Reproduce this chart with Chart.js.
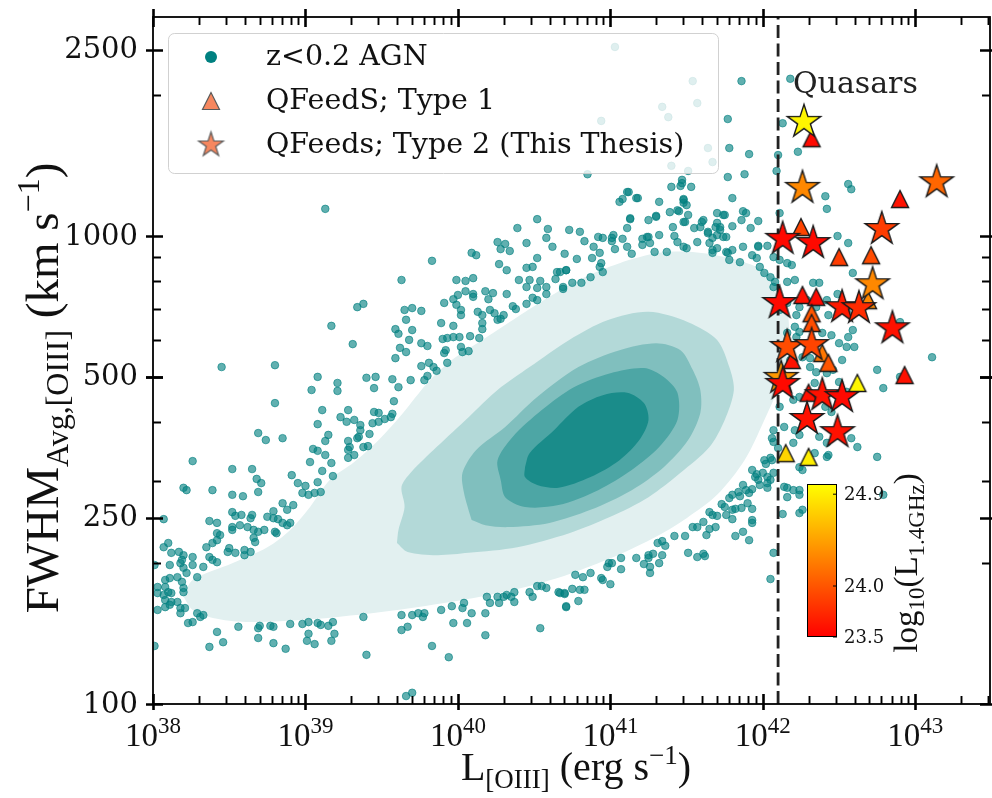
<!DOCTYPE html>
<html><head><meta charset="utf-8">
<script src="https://cdn.jsdelivr.net/npm/chart.js@4.4.1/dist/chart.umd.min.js"></script>
<style>html,body{margin:0;padding:0;background:#fff;}canvas{display:block;}</style>
</head><body>
<canvas id="c" width="992" height="798"></canvas>
<script>
// ---------------- DATA (log10 L[OIII] in erg/s, log10 FWHM in km/s) ----------------
const xRangeLog = [38, 43.49];
const yRangeLog = [2, 3.468];
const xTickExponents = [38, 39, 40, 41, 42, 43];
const yTickValues = [100, 250, 500, 1000, 2500];
const quasarCutLogL = 42.1;
const cbarRange = [23.5, 25.0];
const cbarTicks = [23.5, 24.0, 24.9];

// z<0.2 AGN outliers [logL, logFWHM]
const agnPoints = [
[39.13,3.058],[40.52,3.036],[40.39,3.017],[40.59,3.015],[40.58,2.996],[40.26,2.987],[40.31,2.983],[40.45,2.985],[40.62,2.977],[40.28,2.972],[40.34,2.968],[40.09,2.964],[40.12,2.959],[40.52,2.953],[40.70,2.962],[39.83,2.947],[40.27,2.940],[40.32,2.927],[40.45,2.932],[40.49,2.934],[40.65,2.923],[40.71,2.927],[39.63,2.906],[39.99,2.906],[40.05,2.904],[40.10,2.910],[40.40,2.906],[40.47,2.906],[40.54,2.904],[40.64,2.908],[40.45,2.891],[40.52,2.889],[40.58,2.891],[40.69,2.887],[40.05,2.882],[40.18,2.882],[40.23,2.878],[40.32,2.876],[40.58,2.876],[40.00,2.874],[40.10,2.876],[40.10,2.870],[40.20,2.865],[40.49,2.868],[40.52,2.863],[40.45,2.855],[40.36,2.850],[39.97,2.865],[39.91,2.857],[39.99,2.853],[40.02,2.842],[40.02,2.831],[40.13,2.838],[40.16,2.831],[40.21,2.842],[40.24,2.835],[40.30,2.831],[40.38,2.844],[40.26,2.821],[40.28,2.823],[40.16,2.814],[40.16,2.801],[39.70,2.846],[39.65,2.842],[39.76,2.840],[39.66,2.821],[39.34,2.848],[39.38,2.855],[39.17,2.808],[39.59,2.801],[39.70,2.799],[39.61,2.791],[39.89,2.814],[39.97,2.808],[39.68,2.778],[39.76,2.771],[39.80,2.765],[39.90,2.780],[39.93,2.782],[39.97,2.784],[40.01,2.784],[40.08,2.786],[40.14,2.782],[40.02,2.763],[40.07,2.754],[39.92,2.756],[39.91,2.750],[40.03,2.752],[39.31,2.769],[39.62,2.761],[39.66,2.752],[39.59,2.739],[39.93,2.729],[39.76,2.722],[39.81,2.729],[39.84,2.720],[39.86,2.712],[39.80,2.701],[39.78,2.692],[38.45,2.720],[38.80,2.724],[39.08,2.699],[39.21,2.686],[39.04,2.671],[39.21,2.669],[39.40,2.697],[39.46,2.699],[39.45,2.675],[39.57,2.694],[39.61,2.677],[39.69,2.692],[39.58,2.647],[38.80,2.643],[39.11,2.628],[39.28,2.628],[39.23,2.613],[39.27,2.603],[39.32,2.607],[39.36,2.596],[39.08,2.598],[39.45,2.624],[39.48,2.622],[39.44,2.600],[39.48,2.603],[39.52,2.609],[39.56,2.613],[39.57,2.620],[39.36,2.585],[38.69,2.579],[38.74,2.564],[38.85,2.568],[39.15,2.575],[39.13,2.562],[39.35,2.571],[39.34,2.568],[39.42,2.577],[39.28,2.562],[39.29,2.549],[39.28,2.543],[39.38,2.549],[39.41,2.551],[39.05,2.545],[39.08,2.541],[39.13,2.532],[39.32,2.532],[39.28,2.526],[38.26,2.519],[39.03,2.517],[39.17,2.515],[38.52,2.502],[38.65,2.502],[39.11,2.498],[38.91,2.489],[39.18,2.487],[38.68,2.481],[38.71,2.472],[38.95,2.472],[39.08,2.474],[39.00,2.466],[38.20,2.462],[38.22,2.457],[38.39,2.457],[38.69,2.453],[38.98,2.451],[39.02,2.447],[39.06,2.451],[39.10,2.453],[38.52,2.447],[38.59,2.444],
[38.85,2.429],[38.92,2.425],[38.88,2.415],[38.75,2.400],[38.79,2.412],[38.79,2.397],[38.52,2.410],[38.54,2.402],[38.58,2.404],[38.65,2.404],[38.64,2.397],[38.37,2.391],[38.42,2.387],[38.82,2.395],[38.85,2.387],[38.88,2.382],[38.90,2.387],[38.07,2.395],[38.52,2.378],[38.57,2.382],[38.62,2.378],[38.66,2.372],[38.69,2.368],[38.80,2.368],[38.81,2.365],[38.73,2.372],[38.42,2.365],[38.44,2.361],[38.52,2.372],[38.66,2.355],[38.67,2.346],[38.42,2.350],[38.35,2.335],[38.39,2.344],[38.50,2.333],[38.54,2.323],[38.60,2.329],[38.64,2.325],[38.60,2.318],[38.49,2.325],[38.07,2.335],[38.10,2.344],[38.12,2.323],[38.17,2.325],[38.20,2.318],[38.19,2.308],[38.37,2.314],[38.42,2.303],[38.39,2.308],[38.26,2.314],[38.26,2.297],[38.11,2.297],[38.18,2.301],[38.33,2.293],[38.20,2.291],[38.22,2.280],[38.29,2.271],[38.01,2.297],[38.08,2.265],[38.11,2.269],[38.16,2.271],[38.19,2.261],[38.20,2.248],[38.20,2.239],[38.03,2.250],[38.08,2.250],[38.10,2.239],[38.03,2.237],[38.07,2.233],[38.12,2.237],[38.08,2.222],[38.12,2.218],[38.16,2.218],[38.03,2.201],[38.08,2.207],[38.11,2.212],[38.18,2.205],[38.21,2.205],[38.18,2.194],[38.29,2.194],[38.31,2.186],[38.33,2.190],[38.23,2.173],[38.26,2.175],[38.56,2.165],[38.42,2.154],[38.46,2.132],[38.37,2.122],[38.01,2.124],[38.69,2.162],[38.70,2.167],[38.77,2.167],[38.79,2.165],[38.69,2.141],[38.79,2.130],[38.87,2.118],[38.90,2.171],[38.98,2.171],[39.02,2.175],[39.08,2.173],[39.10,2.169],[39.15,2.167],[39.18,2.175],[39.02,2.150],[39.01,2.135],[39.06,2.128],[39.17,2.135],[39.19,2.150],[39.38,2.186],[39.40,2.105],[39.63,2.190],[39.63,2.158],[39.67,2.165],[39.70,2.190],[39.74,2.194],[39.77,2.186],[39.78,2.194],[39.83,2.124],[39.89,2.201],[39.94,2.100],[39.96,2.209],[39.97,2.173],[40.03,2.205],[40.04,2.216],[40.09,2.194],[40.06,2.173],[40.18,2.194],[40.18,2.147],[40.19,2.229],[40.21,2.216],[40.26,2.229],[40.27,2.216],[40.30,2.229],[40.32,2.233],[40.35,2.229],[40.37,2.239],[40.37,2.218],[40.47,2.239],[40.49,2.229],[40.52,2.252],[40.55,2.252],[40.58,2.248],[40.54,2.162],[40.66,2.239],[40.70,2.235],[40.71,2.209],[39.66,2.017],[39.70,2.024],
[40.67,2.237],[40.71,2.207],[40.70,2.237],[40.75,2.246],[40.79,2.220],[40.80,2.244],[40.83,2.244],[40.77,2.276],[40.82,2.271],[40.87,2.280],[40.94,2.269],[40.95,2.265],[41.00,2.256],[40.98,2.293],[40.99,2.301],[41.01,2.301],[41.07,2.312],[41.07,2.288],[41.17,2.312],[41.22,2.299],[41.25,2.318],[41.25,2.312],[41.26,2.293],[41.26,2.280],[41.28,2.321],[41.32,2.301],[41.34,2.318],[41.31,2.344],[41.34,2.348],[41.36,2.338],[41.42,2.359],[41.49,2.359],[41.51,2.323],[41.57,2.314],[41.61,2.321],[41.62,2.316],[41.54,2.378],[41.57,2.378],[41.61,2.389],[41.63,2.361],[41.65,2.374],[41.69,2.378],[41.65,2.410],[41.67,2.404],[41.70,2.402],[41.73,2.427],[41.75,2.421],[41.76,2.404],[41.80,2.395],[41.78,2.440],[41.80,2.447],[41.84,2.453],[41.85,2.444],[41.80,2.415],[41.82,2.417],[41.86,2.419],[41.90,2.429],[41.93,2.417],[41.82,2.359],[41.87,2.368],[41.91,2.350],[41.93,2.393],[41.93,2.387],[41.87,2.468],[41.89,2.457],[41.91,2.451],[41.93,2.459],[41.93,2.500],[41.96,2.491],[41.97,2.479],[41.98,2.468],[42.00,2.494],[42.03,2.485],[42.03,2.472],[42.05,2.479],[42.03,2.462],[42.07,2.494],[42.06,2.521],[42.02,2.513],[42.06,2.568],[42.07,2.560],[42.10,2.547],[42.07,2.323],[42.05,2.267],[42.07,2.585],[42.13,2.406],[42.16,2.462],[42.16,2.442],
[41.03,3.404],[41.54,3.331],[41.57,3.284],[41.34,3.276],[41.38,3.254],[40.94,3.246],[41.64,3.188],[41.67,3.158],[41.40,3.150],[41.51,3.139],[40.85,3.132],
[41.86,3.331],[42.18,3.336],[41.77,3.250],[42.13,3.241],[41.78,3.188],[41.91,3.175],[42.10,3.173],[42.23,3.180],[42.09,3.139],[41.88,3.132],[41.77,3.126],[42.41,3.085],[42.42,3.058],[42.56,3.111],[42.58,3.100],[42.11,3.049],[41.80,3.081],[41.47,3.120],[41.46,3.107],[41.40,3.105],[41.53,3.105],[41.48,3.079],[41.48,3.071],[41.12,3.094],[41.06,3.073],[41.08,3.079],[41.17,3.081],[41.32,3.073],[41.87,3.053],[41.89,3.049],[41.39,3.051],[41.45,3.053],[41.13,3.036],[41.25,3.034],[41.30,3.043],[41.49,3.030],[41.60,3.030],[41.70,3.049],[40.73,3.013],[40.80,3.009],[40.92,2.998],[40.89,2.977],[41.01,2.996],[41.08,2.994],[41.21,2.994],[41.25,2.998],[41.32,3.002],[41.42,3.000],[41.55,3.017],[41.61,3.034],[41.69,3.019],[41.72,3.019],[41.80,3.021],[41.86,3.034],[41.92,3.017],[41.97,3.032],[41.97,2.979],[42.03,2.979],
[41.02,3.002],[41.11,3.017],[41.18,3.081],[41.11,3.094],[41.13,3.038],[41.30,3.041],[41.41,3.019],[41.44,3.055],[41.47,3.113],[41.48,3.077],[41.50,3.066],[41.48,3.030],[41.51,3.045],[41.59,3.019],[41.74,3.045],[41.70,3.028],[41.72,3.013],[41.64,3.006],[41.67,2.996],[41.74,2.998],[41.87,2.977],[41.97,2.977],[40.67,2.923],[40.71,2.927],[40.78,2.951],[40.83,2.989],[40.95,2.996],[41.01,2.989],[40.88,2.953],[40.93,2.964],[40.94,2.942],[41.03,2.972],[41.11,2.977],[41.14,2.962],[41.21,2.981],[41.24,2.998],[41.26,2.985],[41.29,2.966],[41.37,2.966],[41.44,2.987],[41.48,2.977],[41.50,2.974],[41.57,2.987],[41.65,2.985],[41.67,2.970],[41.70,2.974],[41.77,2.964],[41.80,2.970],[41.85,2.944],[41.93,2.959],[41.96,2.953],[41.98,2.934],[42.01,2.921],[42.05,2.912],[42.07,2.891],[40.69,2.891],[40.75,2.900],[40.81,2.900],[40.87,2.912],[40.93,2.934],[40.95,2.923],
[41.75,3.045],[41.64,3.009],[41.70,3.002],[41.76,2.998],[42.49,3.000],[42.56,2.985],[42.59,2.921],[42.19,2.938],[42.07,2.955],[42.11,2.949],[42.16,2.942],[41.78,2.949],[41.67,2.964],[41.76,2.966],[42.08,2.902],[42.16,2.902],[42.21,2.906],[42.33,2.900],[42.37,2.900],[42.49,2.876],[42.29,2.863],[42.42,2.863],[42.35,2.848],[42.22,2.831],[42.24,2.848],[42.16,2.857],[42.11,2.842],[42.43,2.831],[42.55,2.838],[42.90,2.816],[42.21,2.806],[42.24,2.795],[42.22,2.784],[42.16,2.793],[42.39,2.793],[42.45,2.788],[42.50,2.771],[42.56,2.784],[42.59,2.799],[42.55,2.763],[42.60,2.763],[42.18,2.735],[42.26,2.741],[42.31,2.739],[42.31,2.720],[42.35,2.709],[42.42,2.707],[42.46,2.714],[42.52,2.735],[42.75,2.714],[42.79,2.675],[42.90,2.699],[43.11,2.741],[42.34,2.686],[42.39,2.671],[42.31,2.665],[42.24,2.656],[42.20,2.650],[42.11,2.635],[42.50,2.688],[42.55,2.667],[42.41,2.635],[42.45,2.624],[42.31,2.607],[42.21,2.585],[42.14,2.592],[42.24,2.575],[42.20,2.558],[42.37,2.571],[42.42,2.558],[42.58,2.568],[42.62,2.549],[42.75,2.528],[42.43,2.532],[42.34,2.536],[42.01,2.521],[42.05,2.526],[42.24,2.506],[42.26,2.500],[41.95,2.485],[42.42,2.528],[42.14,2.464],[42.20,2.457],[42.24,2.457],[42.24,2.447],[42.79,2.447],[42.24,2.408],[42.26,2.415]
];

// density contours of the z<0.2 AGN sample, outermost to innermost [logL, logFWHM]
const contourLevel1 = [[38.20,2.229],[38.26,2.265],[38.52,2.301],[38.75,2.335],[38.90,2.372],[39.03,2.421],[39.16,2.479],[39.32,2.517],[39.48,2.564],[39.64,2.622],[39.80,2.686],[39.96,2.735],[40.18,2.782],[40.39,2.827],[40.60,2.870],[40.79,2.906],[41.06,2.942],[41.32,2.964],[41.54,2.966],[41.78,2.953],[41.97,2.932],[42.09,2.902],[42.16,2.842],[42.17,2.778],[42.12,2.692],[42.01,2.607],[41.88,2.521],[41.70,2.447],[41.50,2.397],[41.32,2.361],[41.11,2.327],[40.89,2.297],[40.67,2.271],[40.39,2.246],[39.95,2.218],[39.51,2.197],[39.08,2.182],[38.64,2.175],[38.42,2.182],[38.26,2.201]];
const contourLevel2 = [[39.60,2.344],[39.61,2.372],[39.65,2.421],[39.63,2.464],[39.69,2.494],[39.86,2.549],[40.07,2.613],[40.26,2.671],[40.47,2.720],[40.73,2.778],[40.98,2.820],[41.25,2.838],[41.51,2.816],[41.70,2.778],[41.78,2.720],[41.81,2.671],[41.75,2.607],[41.65,2.549],[41.46,2.494],[41.25,2.442],[41.00,2.400],[40.73,2.365],[40.39,2.335],[40.07,2.323],[39.86,2.318],[39.67,2.325]];
const contourLevel3 = [[40.09,2.393],[40.04,2.451],[40.03,2.494],[40.12,2.543],[40.31,2.592],[40.52,2.656],[40.79,2.720],[41.06,2.756],[41.30,2.771],[41.46,2.756],[41.54,2.714],[41.59,2.671],[41.59,2.622],[41.51,2.564],[41.35,2.506],[41.14,2.457],[40.87,2.415],[40.60,2.387],[40.33,2.378],[40.18,2.382]];
const contourLevel4 = [[40.28,2.479],[40.26,2.521],[40.36,2.571],[40.55,2.628],[40.76,2.677],[41.00,2.707],[41.22,2.718],[41.35,2.699],[41.44,2.665],[41.44,2.607],[41.32,2.549],[41.14,2.500],[40.92,2.457],[40.66,2.425],[40.44,2.421],[40.31,2.442]];
const contourLevel5 = [[40.44,2.506],[40.47,2.536],[40.63,2.585],[40.79,2.635],[40.95,2.660],[41.11,2.665],[41.22,2.643],[41.25,2.607],[41.19,2.564],[41.06,2.521],[40.87,2.485],[40.66,2.462],[40.52,2.468],[40.44,2.485]];
const contourColors = ['#e2f0f0', '#b3d9d8', '#80bfbe', '#4da6a5', '#1a8c8a'];

// QFeedS Type 1 [logL, logFWHM, log10 L1.4GHz]
const type1Points = [[42.32,3.209,23.55],[42.90,3.079,23.6],[42.25,3.019,23.9],[42.50,2.955,23.85],[42.71,2.959,23.95],[42.26,2.874,23.6],[42.35,2.870,23.55],[42.32,2.835,24.0],[42.32,2.814,23.95],[42.39,2.750,24.2],[42.43,2.729,24.0],[42.19,2.735,23.6],[42.13,2.703,24.45],[42.62,2.686,24.95],[42.93,2.703,23.6],[42.30,2.665,23.6],[42.15,2.536,24.75],[42.30,2.528,24.9],[42.69,2.863,24.3]];
// QFeeds Type 2 (This Thesis) [logL, logFWHM, log10 L1.4GHz]
const type2Points = [[42.27,3.244,24.95],[42.26,3.103,24.30],[43.14,3.115,24.10],[42.78,3.015,23.85],[42.13,2.994,23.55],[42.33,2.985,23.55],[42.11,2.857,23.55],[42.52,2.848,23.65],[42.63,2.846,23.75],[42.72,2.897,24.3],[42.85,2.803,23.6],[42.16,2.763,23.95],[42.32,2.767,23.9],[42.12,2.697,24.4],[42.13,2.684,23.55],[42.39,2.660,23.6],[42.52,2.656,23.55],[42.29,2.609,23.6],[42.49,2.581,23.6]];

// ---------------- helpers ----------------
const toXY = pairs => pairs.map(p => ({x: Math.pow(10, p[0]), y: Math.pow(10, p[1])}));
const closed = pairs => toXY(pairs.concat([pairs[0]]));
function autumn(v) {
  const t = Math.max(0, Math.min(1, (v - cbarRange[0]) / (cbarRange[1] - cbarRange[0])));
  return 'rgb(255,' + Math.round(255 * t) + ',0)';
}
function markerCanvas(kind, size, fill, stroke, lw) {
  const s = Math.ceil(size * 2 + lw * 2 + 6);
  const c = document.createElement('canvas'); c.width = s; c.height = s;
  const g = c.getContext('2d'); const cx = s / 2, cy = s / 2;
  g.beginPath();
  if (kind === 'star') {
    for (let i = 0; i < 10; i++) {
      const r = i % 2 ? size * 0.382 : size;
      const a = -Math.PI / 2 + i * Math.PI / 5;
      g.lineTo(cx + r * Math.cos(a), cy + r * Math.sin(a));
    }
  } else {
    g.moveTo(cx, cy - size); g.lineTo(cx - size, cy + size); g.lineTo(cx + size, cy + size);
  }
  g.closePath(); g.fillStyle = fill; g.fill();
  g.lineWidth = lw; g.strokeStyle = stroke; g.lineJoin = 'miter'; g.stroke();
  return c;
}
const STAR_R = 17.5, TRI_R = 8.5;
const type1Imgs = type1Points.map(p => markerCanvas('tri', TRI_R, autumn(p[2]), '#1a1a1a', 1.4));
const type2Imgs = type2Points.map(p => markerCanvas('star', STAR_R, autumn(p[2]), '#1a1a1a', 1.4));
const legendColor = 'rgb(246,135,95)';
const legendTri = markerCanvas('tri', 8.5, legendColor, '#5a5a5a', 1.2);
const legendStar = markerCanvas('star', 13, legendColor, '#5a5a5a', 1.2);

const SERIF = "'DejaVu Serif', serif";
const MATH = "'Liberation Serif', 'Times New Roman', serif";

function richWidth(ctx, parts) { let w = 0; for (const p of parts) { ctx.font = p.f; w += ctx.measureText(p.t).width; } return w; }
function drawRich(ctx, parts, x, y) { let cx = x; for (const p of parts) { ctx.font = p.f; ctx.fillText(p.t, cx, y + (p.dy || 0)); cx += ctx.measureText(p.t).width; } }

const decor = {
  id: 'decor',
  afterDatasetsDraw(chart) {
    const ctx = chart.ctx;
    ctx.save();
    // Quasars label
    ctx.fillStyle = '#222'; ctx.font = '30px ' + SERIF; ctx.textAlign = 'left'; ctx.textBaseline = 'alphabetic';
    ctx.fillText('Quasars', 793, 93);
    // colorbar
    const cb = {l: 807, r: 837, t: 484, b: 637};
    const grd = ctx.createLinearGradient(0, cb.b, 0, cb.t);
    grd.addColorStop(0, autumn(cbarRange[0])); grd.addColorStop(1, autumn(cbarRange[1]));
    ctx.fillStyle = grd; ctx.fillRect(cb.l, cb.t, cb.r - cb.l, cb.b - cb.t);
    ctx.strokeStyle = '#000'; ctx.lineWidth = 1; ctx.strokeRect(cb.l + 0.5, cb.t + 0.5, cb.r - cb.l - 1, cb.b - cb.t - 1);
    ctx.fillStyle = '#111'; ctx.font = '18px ' + SERIF; ctx.textBaseline = 'middle';
    for (const v of cbarTicks) {
      const y = cb.b - (v - cbarRange[0]) / (cbarRange[1] - cbarRange[0]) * (cb.b - cb.t);
      ctx.beginPath(); ctx.moveTo(cb.r - 4, y); ctx.lineTo(cb.r, y); ctx.stroke();
      ctx.fillText(v.toFixed(1), cb.r + 7, y + 1);
    }
    // colorbar label
    ctx.save(); ctx.translate(917, 563); ctx.rotate(-Math.PI / 2);
    ctx.fillStyle = '#111'; ctx.textBaseline = 'alphabetic';
    const cbl = [{t: 'log', f: '33px ' + MATH}, {t: '10', f: '23px ' + MATH, dy: 7}, {t: '(L', f: '33px ' + MATH}, {t: '1.4GHz', f: '23px ' + MATH, dy: 7}, {t: ')', f: '33px ' + MATH}];
    drawRich(ctx, cbl, -richWidth(ctx, cbl) / 2, 0);
    ctx.restore();
    // legend
    const L = {l: 168.5, t: 33.5, w: 550, h: 140, r: 6};
    ctx.beginPath(); ctx.roundRect(L.l, L.t, L.w, L.h, L.r);
    ctx.fillStyle = 'rgba(255,255,255,0.8)'; ctx.fill();
    ctx.strokeStyle = 'rgba(204,204,204,0.9)'; ctx.lineWidth = 1; ctx.stroke();
    const rows = [57, 101, 145];
    ctx.beginPath(); ctx.arc(211, rows[0], 6, 0, Math.PI * 2); ctx.fillStyle = '#008080'; ctx.fill();
    ctx.drawImage(legendTri, 211 - legendTri.width / 2, rows[1] - legendTri.height / 2);
    ctx.drawImage(legendStar, 211 - legendStar.width / 2, rows[2] - legendStar.height / 2);
    ctx.fillStyle = '#111'; ctx.font = '28.5px ' + SERIF; ctx.textBaseline = 'middle';
    const labels = ['z<0.2 AGN', 'QFeedS; Type 1', 'QFeeds; Type 2 (This Thesis)'];
    labels.forEach((s, i) => ctx.fillText(s, 266, rows[i] + 1));
    ctx.restore();
  },
  afterDraw(chart) {
    const ctx = chart.ctx, a = chart.chartArea, xs = chart.scales.x, ys = chart.scales.y;
    ctx.save();
    ctx.strokeStyle = '#000'; ctx.lineCap = 'butt';
    // x ticks
    for (let e = xTickExponents[0]; e <= xTickExponents[xTickExponents.length - 1]; e++) {
      for (let m = 1; m <= 9; m++) {
        const v = m * Math.pow(10, e);
        if (v < xs.min || v > xs.max * 1.0001) continue;
        const px = Math.round(xs.getPixelForValue(v)) + 0.5;
        const major = m === 1;
        ctx.lineWidth = major ? 2.6 : 1.9;
        ctx.beginPath();
        ctx.moveTo(px, a.bottom + (major ? 6 : 0)); ctx.lineTo(px, a.bottom - (major ? 10 : 8));
        ctx.moveTo(px, a.top - (major ? 8 : 0)); ctx.lineTo(px, a.top + (major ? 10 : 8));
        ctx.stroke();
      }
    }
    // y ticks
    const yMinor = [];
    for (let e = 2; e <= 3; e++) for (let m = 2; m <= 9; m++) yMinor.push(m * Math.pow(10, e));
    for (const v of yMinor.concat(yTickValues)) {
      if (v < ys.min || v > ys.max) continue;
      const major = yTickValues.includes(v);
      const py = Math.round(ys.getPixelForValue(v)) + 0.5;
      ctx.lineWidth = major ? 2.6 : 1.9;
      ctx.beginPath();
      ctx.moveTo(a.left - (major ? 7 : 0), py); ctx.lineTo(a.left + (major ? 10 : 8), py);
      ctx.moveTo(a.right + (major ? 7 : 0), py); ctx.lineTo(a.right - (major ? 10 : 8), py);
      ctx.stroke();
    }
    // spines
    ctx.lineWidth = 1.8;
    ctx.strokeRect(a.left, a.top, a.right - a.left, a.bottom - a.top);
    // y tick labels
    ctx.fillStyle = '#111'; ctx.font = '29px ' + SERIF; ctx.textAlign = 'right'; ctx.textBaseline = 'middle';
    for (const v of yTickValues) ctx.fillText(String(v), 138, ys.getPixelForValue(v) + 1);
    // x tick labels
    ctx.textAlign = 'left'; ctx.textBaseline = 'alphabetic';
    for (const e of xTickExponents) {
      const parts = [{t: '10', f: '33px ' + MATH}, {t: String(e), f: '23px ' + MATH, dy: -13}];
      const px = xs.getPixelForValue(Math.pow(10, e));
      drawRich(ctx, parts, px - richWidth(ctx, parts) / 2, 746);
    }
    // x title
    const xt = [{t: 'L', f: '40px ' + MATH}, {t: '[OIII]', f: '27px ' + MATH, dy: 8}, {t: ' (erg s', f: '40px ' + MATH}, {t: '\u22121', f: '27px ' + MATH, dy: -16}, {t: ')', f: '40px ' + MATH}];
    drawRich(ctx, xt, 576 - richWidth(ctx, xt) / 2, 780);
    // y title
    ctx.save(); ctx.translate(58, 388); ctx.rotate(-Math.PI / 2);
    const yt = [{t: 'FWHM', f: '47px ' + MATH}, {t: 'Avg,[OIII]', f: '32px ' + MATH, dy: 10}, {t: ' (km s', f: '47px ' + MATH}, {t: '\u22121', f: '32px ' + MATH, dy: -19}, {t: ')', f: '47px ' + MATH}];
    drawRich(ctx, yt, -richWidth(ctx, yt) / 2, 0);
    ctx.restore();
    ctx.restore();
  }
};

const ctx = document.getElementById('c').getContext('2d');
const contourSets = [contourLevel1, contourLevel2, contourLevel3, contourLevel4, contourLevel5].map((c, i) => ({
  type: 'line', data: closed(c), backgroundColor: contourColors[i], borderWidth: 0, borderColor: contourColors[i],
  pointRadius: 0, fill: 'shape', tension: 0.3, order: 20 - i
}));
new Chart(ctx, {
  type: 'scatter',
  data: {
    datasets: contourSets.concat([
      {label: 'z<0.2 AGN', data: toXY(agnPoints), pointRadius: 3.8, pointBorderWidth: 1,
       backgroundColor: 'rgba(0,128,128,0.62)', borderColor: 'rgba(0,128,128,0.62)', order: 10, clip: 0},
      {type: 'line', data: [{x: Math.pow(10, quasarCutLogL), y: Math.pow(10, yRangeLog[0])}, {x: Math.pow(10, quasarCutLogL), y: Math.pow(10, yRangeLog[1])}],
       borderColor: '#222', borderWidth: 2.8, borderDash: [13, 5.5], pointRadius: 0, fill: false, order: 5},
      {label: 'QFeedS; Type 1', data: toXY(type1Points), pointStyle: c => type1Imgs[c.dataIndex], pointRadius: 9, order: 3},
      {label: 'QFeeds; Type 2 (This Thesis)', data: toXY(type2Points), pointStyle: c => type2Imgs[c.dataIndex], pointRadius: 17, order: 2}
    ])
  },
  options: {
    responsive: false, animation: false, devicePixelRatio: 1, events: [],
    layout: {autoPadding: false, padding: {left: 153, right: 2, top: 17, bottom: 94}},
    scales: {
      x: {type: 'logarithmic', display: false, min: Math.pow(10, xRangeLog[0]), max: Math.pow(10, xRangeLog[1])},
      y: {type: 'logarithmic', display: false, min: Math.pow(10, yRangeLog[0]), max: Math.pow(10, yRangeLog[1])}
    },
    plugins: {legend: {display: false}, tooltip: {enabled: false}}
  },
  plugins: [decor]
});
</script>
</body></html>
